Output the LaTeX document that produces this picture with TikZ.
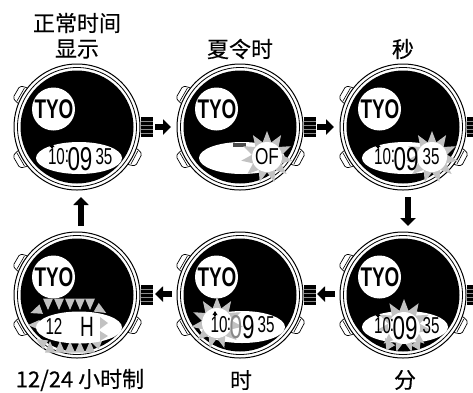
\documentclass[tikz,border=0pt]{standalone}
\usepackage{fontspec}
\setmainfont{Liberation Sans}
\newfontfamily\cjkfont[FakeBold=0.3]{Noto Sans CJK SC}
\usetikzlibrary{arrows.meta,shapes.geometric}
\definecolor{burst}{gray}{0.76}
\tikzset{
  lbl/.style={font=\cjkfont\fontsize{22}{24}\selectfont,inner sep=0pt,text=black},
  ringa/.style={circle,draw=black,fill=white,line width=1pt,minimum size=126pt,inner sep=0pt},
  ringb/.style={circle,draw=black,fill=white,line width=.8pt,minimum size=119pt,inner sep=0pt},
  face/.style={circle,fill=black,minimum size=113pt,inner sep=0pt},
  city/.style={circle,fill=white,minimum size=43pt,inner sep=0pt},
  lcd/.style={ellipse,fill=white,minimum width=86pt,minimum height=32pt,inner sep=0pt},
  tyo/.style={font=\bfseries\fontsize{27}{27}\selectfont,xscale=.7,inner sep=0pt},
  small/.style={font=\fontsize{23}{23}\selectfont,xscale=.66,inner sep=0pt},
  big/.style={font=\fontsize{33}{33}\selectfont,xscale=.68,inner sep=0pt},
  crownbox/.style={rectangle,fill=black,minimum width=12pt,minimum height=20pt,inner sep=0pt},
  btn/.style={draw=black,fill=white,line width=.7pt,rounded corners=1.5pt},
  blk/.style={line width=6pt,-{Triangle[length=8pt,width=15pt]}},
  burststar/.style={star,star points=11,star point ratio=1.7,fill=burst,minimum size=52pt,inner sep=0pt},
  burstcore/.style={circle,fill=white,minimum size=30pt,inner sep=0pt},
  spike/.style={fill=burst}
}
\newcommand{\onebtn}[3]{\begin{scope}[shift={(#1,#2)},rotate=#3]
  \draw[btn] (57,-9.5) -- (66,-8.5) -- (70,-6.5) -- (70,6.5) -- (66,8.5) -- (57,9.5) -- cycle;
  \draw[line width=.6pt] (65,-7.5) -- (65,7.5);
\end{scope}}
\newcommand{\watch}[3]{%
  \onebtn{#2}{#3}{150}\onebtn{#2}{#3}{210}\onebtn{#2}{#3}{-28}
  \node[crownbox] (#1c) at (#2+70,#3) {};
  \foreach \d in {-6,-2,2,6} \draw[black!45,line width=.5pt] (#2+64,#3+\d) -- (#2+76,#3+\d);
  \node[ringa] (#1r) at (#2,#3) {};
  \node[ringb] (#1s) at (#2,#3) {};
  \node[face] (#1) at (#2,#3) {};
  \node[city] (#1t) at (#2-23.5,#3-18) {};
  \node[tyo] (#1n) at (#2-23,#3-18) {TYO};
}
\newcommand{\spk}[3]{\fill[spike,shift={(#1,#2)},rotate=#3] (-5.5,-5) -- (6,0) -- (-5.5,5) -- cycle;}
\newcommand{\caretmark}[2]{\fill (#1-2.5,#2+2) -- (#1,#2-2) -- (#1+2.5,#2+2) -- cycle; \fill (#1-1,#2+2) rectangle (#1+1,#2+3);}
\begin{document}
\begin{tikzpicture}[x=1pt,y=-1pt]
\useasboundingbox (0,0) rectangle (473,392);
\fill[white] (0,0) rectangle (473,392);
\node[lbl] (l1a) at (77,23) {正常时间};
\node[lbl] (l1b) at (77,49) {显示};
\node[lbl] (l2) at (240,49) {夏令时};
\node[lbl] (l3) at (403,49) {秒};
\node[lbl] (l4) at (80,380) {12/24 小时制};
\node[lbl] (l5) at (241,380) {时};
\node[lbl] (l6) at (405,380) {分};
% watch 1
\watch{wa}{77}{127}
\node[lcd] (wae) at (79,158) {};
\node[small] (wah) at (56.5,157) {10};
\node[small] (wac) at (67,156) {:};
\node[big] (wam) at (80,159) {09};
\node[small] (was) at (104,157) {35};
\caretmark{52}{145}
% watch 2
\watch{wb}{240}{127}
\node[lcd] (wbe) at (242,158) {};
\fill[black!70] (233,143) rectangle (246,147);
\node[burststar] (wbb) at (267,157) {};
\node[burstcore] (wbk) at (267,157) {};
\node[big,font=\fontsize{23}{23}\selectfont,xscale=1.1] (wbo) at (267,157) {OF};
% watch 3
\watch{wc}{403}{127}
\node[lcd] (wce) at (405,158) {};
\node[burststar] (wcb) at (432,157) {};
\node[burstcore] (wck) at (432,157) {};
\node[small] (wch) at (382.5,157) {10};
\node[small] (wcc) at (393,156) {:};
\node[big] (wcm) at (406,159) {09};
\node[small] (wcs) at (431,157) {35};
\caretmark{378}{145}
% watch 4 (12/24)
\watch{wd}{77}{295}
\foreach \x in {48,59,70,80,90} {\spk{\x}{304}{-90}}
\foreach \x in {50,60,70,80,90} {\spk{\x}{347}{90}}
\spk{36}{311}{200} \spk{34}{325}{180} \spk{41}{342}{150}
\spk{101}{310}{-30} \spk{106}{325}{0} \spk{99}{342}{45}
\node[lcd] (wde) at (79,327.5) {};
\fill[burst] (100,317) -- (108,323) -- (100,329) -- cycle;
\fill[burst] (100,331) -- (108,336) -- (100,341) -- cycle;
\node[small] (wdh) at (54,326) {12};
\node[big,font=\fontsize{28}{28}\selectfont] (wdu) at (87,327) {H};
% watch 5 (hour)
\watch{we}{240}{295}
\node[lcd] (wee) at (242,327) {};
\node[burststar] (web) at (217,323) {};
\node[burstcore] (wek) at (217,323) {};
\node[small] (weh) at (219,325) {10};
\node[small] (wec) at (229,324) {:};
\node[big] (wem) at (242,327) {\textcolor{burst!70!black}{0}9};
\node[small] (wes) at (266,325) {35};
\caretmark{215}{313}
% watch 6 (minute)
\watch{wf}{403}{295}
\node[lcd] (wfe) at (405,327) {};
\node[burststar,minimum size=54pt] (wfb) at (404,326) {};
\node[burstcore,minimum size=32pt] (wfk) at (404,328) {};
\spk{388}{343}{120} \spk{418}{343}{60}
\node[small] (wfh) at (382.5,326) {10};
\node[small] (wfc) at (392,325) {:};
\node[big] (wfm) at (405,328) {09};
\node[small] (wfs) at (431,326) {35};
\caretmark{378}{314}
% connectors
\coordinate (a1) at (155,127); \coordinate (a2) at (171,127);
\coordinate (b1) at (317,127); \coordinate (b2) at (334,127);
\coordinate (c1) at (408,197); \coordinate (c2) at (408,226);
\coordinate (d1) at (335,294); \coordinate (d2) at (317,294);
\coordinate (e1) at (172,294); \coordinate (e2) at (155,294);
\coordinate (f1) at (81,226); \coordinate (f2) at (81,197);
\draw[blk] (a1) -- (a2);
\draw[blk] (b1) -- (b2);
\draw[blk] (c1) -- (c2);
\draw[blk] (d1) -- (d2);
\draw[blk] (e1) -- (e2);
\draw[blk] (f1) -- (f2);
\end{tikzpicture}
\end{document}
